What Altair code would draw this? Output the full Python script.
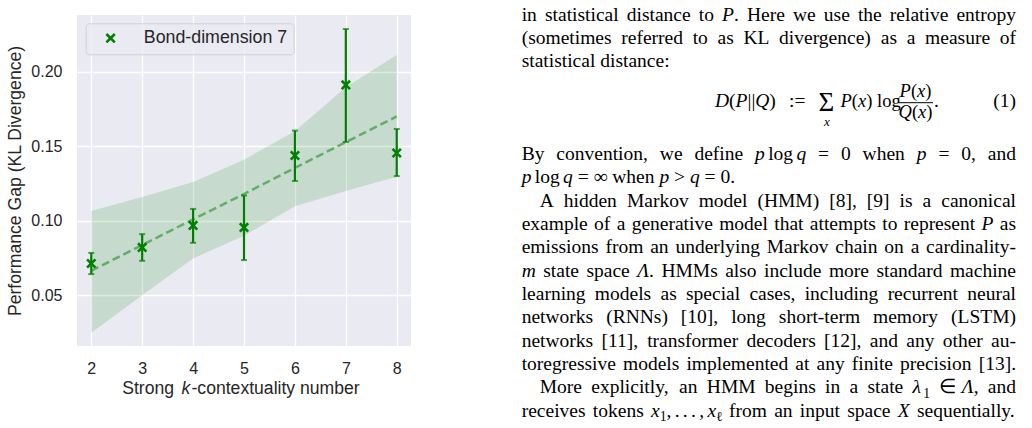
import altair as alt
import pandas as pd

# ---------------- chart data ----------------
k_values = [2, 3, 4, 5, 6, 7, 8]
gap_mean = [0.0714, 0.0822, 0.0969, 0.0956, 0.1438, 0.1911, 0.1455]
gap_low = [0.0643, 0.0732, 0.0853, 0.0737, 0.1267, 0.1529, 0.1300]
gap_high = [0.0785, 0.0911, 0.1080, 0.1170, 0.1605, 0.2286, 0.1616]
fit_value = [0.0665, 0.0838, 0.1010, 0.1180, 0.1355, 0.1528, 0.1700]
band_low = [0.0250, 0.0502, 0.0748, 0.0900, 0.1098, 0.1200, 0.1295]
band_high = [0.1066, 0.1160, 0.1260, 0.1410, 0.1600, 0.1896, 0.2112]
series_name = "Bond-dimension 7"

x_ticks = [2, 3, 4, 5, 6, 7, 8]
y_ticks = [0.05, 0.10, 0.15, 0.20]
x_title_parts = ["Strong", "k", "-contextuality number"]
y_title = "Performance Gap (KL Divergence)"

# ---------------- page text ----------------
# *...* italic, _..._ subscript, ~ thin space
para_top = [
    "in statistical distance to *P*. Here we use the relative entropy",
    "(sometimes referred to as KL divergence) as a measure of",
    "statistical distance:",
]
para_bottom = [
    "By convention, we define *p*~log~*q* = 0 when *p* = 0, and",
    "*p*~log~*q* = ∞ when *p* > *q* = 0.",
    "A hidden Markov model (HMM) [8], [9] is a canonical",
    "example of a generative model that attempts to represent *P* as",
    "emissions from an underlying Markov chain on a cardinality-",
    "*m* state space *Λ*. HMMs also include more standard machine",
    "learning models as special cases, including recurrent neural",
    "networks (RNNs) [10], long short-term memory (LSTM)",
    "networks [11], transformer decoders [12], and any other au-",
    "toregressive models implemented at any finite precision [13].",
    "More explicitly, an HMM begins in a state *λ*_1_ ∈ *Λ*, and",
    "receives tokens *x*_1_,~.~.~.~,~*x*_ℓ_ from an input space *X* sequentially.",
]
bottom_indent = [False, False, True, False, False, False, False, False, False, False, True, False]
bottom_justify = [True, False, True, True, True, True, True, True, True, True, True, True]
top_justify = [True, True, False]
eq_left = "*D*(*P*||*Q*)"
eq_def = ":="
eq_sum = "Σ"
eq_sub = "*x*"
eq_px = "*P*(*x*)"
eq_log = "log"
eq_num = "*P*(*x*)"
eq_den = "*Q*(*x*)"
eq_end = "."
eq_label = "(1)"

# ---------------- layout ----------------
PAD_L, PAD_T, W, H = 77, 15, 334, 331
FS = 19.5
EQ_FS = 18.5
TX0, TX1, INDENT = 521.7, 1016.0, 18.0
LINE = 23.33

ROMAN = {" ": 250, "!": 333, "(": 333, ")": 333, ",": 250, "-": 333, ".": 250, ":": 278,
         "=": 564, ">": 564, "[": 333, "]": 333, "|": 200, "0": 500, "1": 500, "2": 500,
         "3": 500, "8": 500, "9": 500,
         "A": 722, "B": 667, "C": 667, "D": 722, "E": 611, "F": 556, "G": 722, "H": 722,
         "I": 333, "K": 722, "L": 611, "M": 889, "N": 722, "O": 722, "P": 556, "Q": 722,
         "R": 667, "S": 556, "T": 611, "U": 722, "V": 722, "W": 944, "X": 722, "Y": 722,
         "a": 444, "b": 500, "c": 444, "d": 500, "e": 444, "f": 333, "g": 500, "h": 500,
         "i": 278, "j": 278, "k": 500, "l": 278, "m": 778, "n": 500, "o": 500, "p": 500,
         "q": 500, "r": 333, "s": 389, "t": 278, "u": 500, "v": 500, "w": 722, "x": 500,
         "y": 500, "z": 444, "∞": 713, "∈": 667, "Λ": 722, "λ": 550, "ℓ": 420}
ITALIC = {"P": 611, "Q": 722, "D": 722, "X": 611, "p": 500, "q": 500, "m": 722, "x": 444,
          "Λ": 611, "λ": 550}


def text_width(s, italic):
    tot = 0
    for ch in s:
        if italic and ch in ITALIC:
            tot += ITALIC[ch]
        else:
            tot += ROMAN.get(ch, 500)
    return tot / 1000.0


def word_segments(w, fs):
    """Split a word into (text, italic, sub, dx) pieces."""
    segs, cur = [], 0.0
    italic = sub = False
    buf = ""

    def flush():
        nonlocal buf, cur
        if buf:
            size = fs * (0.7 if sub else 1.0)
            segs.append((buf, italic, sub, cur))
            cur += text_width(buf, italic) * size
            buf = ""

    for ch in w:
        if ch == "*":
            flush(); italic = not italic
        elif ch == "_":
            flush(); sub = not sub
        elif ch == "~":
            flush(); cur += 0.17 * fs
        else:
            buf += ch
    flush()
    return segs, cur


def layout_line(line, x0, x1, y, fs, justify):
    words = [word_segments(w, fs) for w in line.split(" ")]
    total = sum(wd for _, wd in words)
    gap = (x1 - x0 - total) / (len(words) - 1) if (justify and len(words) > 1) else 0.25 * fs
    rows, x = [], x0
    for segs, wd in words:
        for t, it, sb, dx in segs:
            rows.append({"t": t, "style": "italic" if it else "normal",
                         "px": x + dx - PAD_L, "py": y + (4.5 if sb else 0.0) - PAD_T,
                         "fs": fs * (0.7 if sb else 1.0)})
        x += wd + gap
    return rows


def centered(s, cx, y, fs):
    _, w = word_segments(s, fs)
    return layout_line(s, cx - w / 2, 0, y, fs, False)


rows = []
for i, line in enumerate(para_top):
    rows += layout_line(line, TX0, TX1, 20.7 + i * LINE, FS, top_justify[i])
for i, line in enumerate(para_bottom):
    x0 = TX0 + (INDENT if bottom_indent[i] else 0)
    rows += layout_line(line, x0, TX1, 160.0 + i * LINE, FS, bottom_justify[i])

# equation (1)
EQ_BASE = 107.0
FRAC_C = 915.5
rows += layout_line(eq_left, 715.0, 0, EQ_BASE, FS, False)
rows += layout_line(eq_def, 789.0, 0, EQ_BASE, FS, False)
rows += layout_line(eq_sum, 818.5, 0, 110.5, 27.0, False)
rows += centered(eq_sub, 827.0, 125.5, 13.0)
rows += layout_line(eq_px, 840.5, 0, EQ_BASE, EQ_FS, False)
rows += layout_line(eq_log, 877.0, 0, EQ_BASE, EQ_FS, False)
rows += centered(eq_num, FRAC_C, 96.5, EQ_FS)
rows += centered(eq_den, FRAC_C, 117.5, EQ_FS)
rows += layout_line(eq_end, 934.0, 0, EQ_BASE, FS, False)
_, wl = word_segments(eq_label, FS)
rows += layout_line(eq_label, TX1 - wl, 0, EQ_BASE, FS, False)
text_df = pd.DataFrame(rows)

df = pd.DataFrame({
    "k": k_values, "mean": gap_mean, "lo": gap_low, "hi": gap_high,
    "fit": fit_value, "blo": band_low, "bhi": band_high,
    "series": [series_name] * len(k_values),
})

GREEN = "#008000"
INK = "#262626"
SANS = "Liberation Sans"
X_PATH = "M-1,-1L1,1M-1,1L1,-1"

x_scale = alt.Scale(domain=[1.72, 8.28], nice=False, zero=False)
y_scale = alt.Scale(domain=[0.0161, 0.238], nice=False, zero=False)
x_axis = alt.Axis(values=x_ticks, format="d", title=None, grid=True, gridColor="white",
                  gridWidth=1.3, domain=False, ticks=False, tickSize=0, labelPadding=14.5,
                  labelFont=SANS, labelFontSize=16, labelColor=INK, labelFlush=False)
y_axis = alt.Axis(values=y_ticks, format=".2f", title=y_title, grid=True, gridColor="white",
                  gridWidth=1.3, domain=False, ticks=False, tickSize=0, labelPadding=15,
                  labelFont=SANS, labelFontSize=16, labelColor=INK,
                  titleFont=SANS, titleFontSize=17.6, titleColor=INK, titleFontWeight="normal",
                  titleX=-62, titleY=H / 2, titleAngle=-90, titleAlign="center",
                  titleBaseline="middle")

X = alt.X("k:Q", scale=x_scale, axis=x_axis)


def Y(field):
    return alt.Y(field, type="quantitative", scale=y_scale, axis=y_axis)


base = alt.Chart(df)
band = base.mark_area(color=GREEN, opacity=0.15).encode(x=X, y=Y("blo"), y2="bhi")
fit = base.mark_line(color=GREEN, opacity=0.5, strokeDash=[8, 4], strokeWidth=2.5).encode(
    x=X, y=Y("fit"))
bars = base.mark_rule(color=GREEN, strokeWidth=2.2).encode(x=X, y=Y("lo"), y2="hi")
cap_lo = base.mark_tick(color=GREEN, orient="horizontal", thickness=2, size=6).encode(
    x=X, y=Y("lo"))
cap_hi = base.mark_tick(color=GREEN, orient="horizontal", thickness=2, size=6).encode(
    x=X, y=Y("hi"))
points = base.mark_point(shape=X_PATH, filled=False, strokeWidth=2.6, size=70,
                         opacity=1).encode(
    x=X, y=Y("mean"),
    color=alt.Color("series:N", scale=alt.Scale(domain=[series_name], range=[GREEN]),
                    legend=alt.Legend(orient="none", legendX=8.7, legendY=8.3, title=None,
                                      padding=6, fillColor="rgba(234,234,242,0.8)",
                                      strokeColor="rgba(204,204,204,0.8)", cornerRadius=3,
                                      symbolType=X_PATH, symbolSize=70,
                                      symbolStrokeWidth=2.6, symbolOffset=10,
                                      labelOffset=24.3, labelFont=SANS, labelFontSize=17.8,
                                      labelColor=INK)))


def piece(txt, x, style="normal", align="left"):
    return alt.Chart(pd.DataFrame({"t": [txt]})).mark_text(
        align=align, baseline="middle", font=SANS, fontSize=17.6, color=INK,
        fontStyle=style).encode(x=alt.value(x), y=alt.value(389 - PAD_T), text="t:N")


xt1 = piece(x_title_parts[0], 174 - PAD_L, align="right")
xt2 = piece(x_title_parts[1], 181.5 - PAD_L, style="italic")
xt3 = piece(x_title_parts[2], 191.5 - PAD_L)

txt_enc = dict(
    x=alt.X("px:Q", scale=None, axis=None),
    y=alt.Y("py:Q", scale=None, axis=None),
    size=alt.Size("fs:Q", scale=None, legend=None),
    text="t:N",
)
page_roman = alt.Chart(text_df).transform_filter("datum.style == 'normal'").mark_text(
    align="left", baseline="alphabetic", font="Liberation Serif", color="#000000"
).encode(**txt_enc)
page_italic = alt.Chart(text_df).transform_filter("datum.style == 'italic'").mark_text(
    align="left", baseline="alphabetic", font="Liberation Serif", fontStyle="italic",
    color="#000000").encode(**txt_enc)

frac_bar = alt.Chart(pd.DataFrame({"a": [0]})).mark_rule(color="#000000", strokeWidth=1).encode(
    x=alt.value(FRAC_C - 17.5 - PAD_L), x2=alt.value(FRAC_C + 17.5 - PAD_L),
    y=alt.value(102.7 - PAD_T))

chart = alt.layer(band, fit, bars, cap_lo, cap_hi, points, xt1, xt2, xt3,
                  page_roman, page_italic, frac_bar).properties(
    width=W, height=H,
    padding={"left": PAD_L, "top": PAD_T, "right": 1032 - PAD_L - W, "bottom": 428 - PAD_T - H},
    autosize=alt.AutoSizeParams(type="none"),
    background="white",
).configure_view(fill="#eaeaf2", stroke=None)

chart.save("out.html", embed_options={"renderer": "svg", "actions": False})
